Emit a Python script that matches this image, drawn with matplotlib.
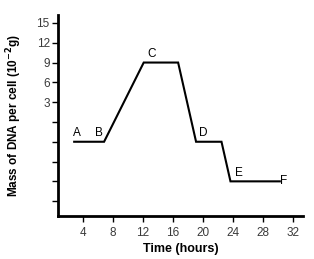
import matplotlib
matplotlib.use("Agg")
import matplotlib.pyplot as plt

# Data (time in hours, level = tick index on y axis)
times = [2.8, 6.8, 12.1, 16.7, 19.1, 22.5, 23.7, 30.3]
levels = [4, 4, 8, 8, 4, 4, 2, 2]

# letters and the point (index into times/levels) each one marks
point_labels = ["A", "B", "C", "D", "E", "F"]
label_index = [0, 1, 2, 4, 6, 7]

x_ticks = [4, 8, 12, 16, 20, 24, 28, 32]
y_ticks = [1, 2, 3, 4, 5, 6, 7, 8, 9, 10]
y_tick_labels = ["", "", "", "", "", "3", "6", "9", "12", "15"]

plt.rcParams["font.family"] = ["Liberation Sans", "DejaVu Sans"]

fig = plt.figure(figsize=(3.14, 2.59), dpi=100)
ax = fig.add_axes([0.185, 0.166, 0.78, 0.776])

ax.plot(times, levels, color="black", lw=1.5, solid_joinstyle="miter")

# label offsets in points (text centre relative to the marked point)
offsets = [(2, 6), (-4, 6), (6, 6), (5, 6.5), (6, 6), (0, 0)]
for lab, idx, off in zip(point_labels, label_index, offsets):
    ha = "left" if lab == "F" else "center"
    ax.annotate(lab, (times[idx], levels[idx]), xytext=off, textcoords="offset points",
                ha=ha, va="center", fontsize=8.5, color="black")

ax.set_xlim(0.65, 33.4)
ax.set_ylim(0.25, 10.4)
ax.set_xticks(x_ticks)
ax.set_yticks(y_ticks)
ax.set_yticklabels(y_tick_labels)

for side in ["top", "right"]:
    ax.spines[side].set_visible(False)
for side in ["left", "bottom"]:
    ax.spines[side].set_linewidth(2)

ax.tick_params(axis="both", direction="out", length=4, width=1, labelsize=8.5,
               labelcolor="#3a3a3a")
ax.tick_params(axis="x", pad=4)
ax.tick_params(axis="y", pad=2)

ax.set_xlabel("Time (hours)", fontsize=9, fontweight="bold", labelpad=3)
ax.set_ylabel("Mass of DNA per cell (10$^{\\mathbf{-2}}$g)", fontsize=8.5,
              fontweight="bold", labelpad=9)

fig.savefig("out.png", dpi=100)
